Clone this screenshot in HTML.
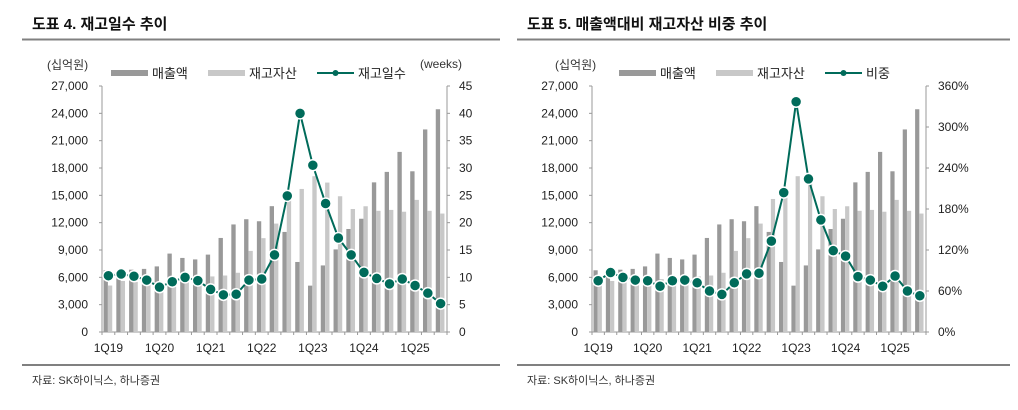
<!DOCTYPE html>
<html><head><meta charset="utf-8"><style>
body{margin:0;background:#fff;width:1018px;height:405px;overflow:hidden}
svg{font-family:"Liberation Sans","Noto Sans CJK KR",sans-serif}
</style></head><body>
<svg id="c" width="1018" height="405" xmlns="http://www.w3.org/2000/svg">
<text x="32" y="29" font-size="15" font-weight="bold" fill="#111">도표 4. 재고일수 추이</text>
<line x1="22" y1="39.5" x2="500" y2="39.5" stroke="#808080" stroke-width="2"/>
<text x="527" y="29" font-size="15" font-weight="bold" fill="#111">도표 5. 매출액대비 재고자산 비중 추이</text>
<line x1="517" y1="39.5" x2="1010" y2="39.5" stroke="#808080" stroke-width="2"/>
<line x1="22" y1="365" x2="500" y2="365" stroke="#808080" stroke-width="2"/>
<line x1="517" y1="365" x2="1010" y2="365" stroke="#808080" stroke-width="2"/>
<text x="32" y="384" font-size="11" fill="#333">자료: SK하이닉스, 하나증권</text>
<text x="527" y="384" font-size="11" fill="#333">자료: SK하이닉스, 하나증권</text>
</svg>
<script>
const quarters=["1Q19","2Q19","3Q19","4Q19","1Q20","2Q20","3Q20","4Q20","1Q21","2Q21","3Q21","4Q21","1Q22","2Q22","3Q22","4Q22","1Q23","2Q23","3Q23","4Q23","1Q24","2Q24","3Q24","4Q24","1Q25","2Q25","3Q25"];
const sales=[6773,6452,6839,6927,7199,8607,8129,7966,8494,10322,11805,12377,12156,13811,10983,7686,5088,7306,9066,11306,12430,16423,17573,19767,17639,22232,24449];
const inventory=[5100,5600,5500,5300,5400,5800,6100,6100,6100,6200,6500,8900,10300,11900,14600,15700,17100,16400,14900,13500,13800,13300,13400,13200,14500,13300,13000];
const weeks=[10.3,10.6,10.2,9.5,8.2,9.2,10.0,9.4,7.8,6.8,6.9,9.5,9.7,14.1,24.9,40.0,30.5,23.5,17.2,14.1,10.9,9.8,8.8,9.7,8.5,7.1,5.2];
const ratio=[75,87,80,76,75,67,75,76,72,60,55,72,85,86,133,204,337,224,164,119,111,81,76,67,82,60,53];
const leftTicks=[0,3000,6000,9000,12000,15000,18000,21000,24000,27000];
const weekTicks=[0,5,10,15,20,25,30,35,40,45];
const ratioTicks=[0,60,120,180,240,300,360];
const xLabels=["1Q19","1Q20","1Q21","1Q22","1Q23","1Q24","1Q25"];
const NS="http://www.w3.org/2000/svg";
const svg=document.getElementById('c');
function mk(tag,attrs,parent,txt){const e=document.createElementNS(NS,tag);for(const k in attrs)e.setAttribute(k,attrs[k]);if(txt!==undefined)e.textContent=txt;(parent||svg).appendChild(e);return e;}
function draw(cfg){
  const g=mk('g',{});
  
  
  const L=cfg.left,R=cfg.right,T=86,B=332;
  const n=quarters.length,bw=(R-L)/n;
  const yL=v=>B-(v/27000)*(B-T);
  const yR=v=>B-(v/cfg.rmax)*(B-T);
  const xc=i=>L+bw*(i+0.5);
  // axes
  const a1=mk('line',{x1:L,y1:T,x2:L,y2:B,stroke:'#999','stroke-width':1},g);
  
  const a2=mk('line',{x1:R,y1:T,x2:R,y2:B,stroke:'#999','stroke-width':1},g);
  
  const a3=mk('line',{x1:L-3,y1:B,x2:R+3,y2:B,stroke:'#999','stroke-width':1},g);
  
  leftTicks.forEach(v=>{
    mk('line',{x1:L-3,y1:yL(v),x2:L,y2:yL(v),stroke:'#999'},g);
    const t=mk('text',{x:L-14,y:yL(v)+4,'font-size':12,fill:'#222','text-anchor':'end'},g,v.toLocaleString('en-US'));
    
  });
  cfg.rticks.forEach(v=>{
    mk('line',{x1:R,y1:yR(v),x2:R+3,y2:yR(v),stroke:'#999'},g);
    const t=mk('text',{x:R+12,y:yR(v)+4,'font-size':12,fill:'#222'},g,v+cfg.suffix);
    
  });
  for(let i=0;i<=n;i++){mk('line',{x1:L+bw*i,y1:B,x2:L+bw*i,y2:B+3,stroke:'#999'},g);}
  quarters.forEach((q,i)=>{
    if(xLabels.indexOf(q)>=0){
      const t=mk('text',{x:xc(i),y:B+20,'font-size':12,fill:'#222','text-anchor':'middle'},g,q);
      
    }
  });
  const w=bw*0.34;
  quarters.forEach((q,i)=>{
    const b1=mk('rect',{x:xc(i)-w-0.5,y:yL(sales[i]),width:w,height:B-yL(sales[i]),fill:'#999'},g);
    
    const b2=mk('rect',{x:xc(i)-0.5,y:yL(inventory[i]),width:w,height:B-yL(inventory[i]),fill:'#c8c8c8'},g);
    
  });
  const vals=cfg.line;
  const pl=mk('polyline',{points:vals.map((v,i)=>xc(i)+','+yR(v)).join(' '),fill:'none',stroke:'#006b5a','stroke-width':2},g);
  
  vals.forEach((v,i)=>{
    const c=mk('circle',{cx:xc(i),cy:yR(v),r:5.5,fill:'#006b5a',stroke:'#fff','stroke-width':1.5},g);
    
  });
  // legend
  const o=cfg.lx;
  const u=mk('text',{x:o-64,y:69,'font-size':12,fill:'#333'},g,'(십억원)');
  
  mk('rect',{x:o,y:70,width:37,height:6,fill:'#999'},g);
  const l1=mk('text',{x:o+41,y:78,'font-size':13,fill:'#222'},g,'매출액');
  
  mk('rect',{x:o+97,y:70,width:37,height:6,fill:'#c8c8c8'},g);
  const l2=mk('text',{x:o+138,y:78,'font-size':13,fill:'#222'},g,'재고자산');
  
  mk('line',{x1:o+206,y1:73,x2:o+243,y2:73,stroke:'#006b5a','stroke-width':2},g);
  mk('circle',{cx:o+224.5,cy:73,r:3,fill:'#006b5a'},g);
  const l3=mk('text',{x:o+247,y:78,'font-size':13,fill:'#222'},g,cfg.lineName);
  
  if(cfg.runit){const r=mk('text',{x:R-27,y:68,'font-size':12,fill:'#333'},g,cfg.runit);
    }
}
draw({id:'weeks',left:102,right:447,rmax:45,rticks:weekTicks,suffix:'',line:weeks,lx:111,lineName:'재고일수',runit:'(weeks)'});
draw({id:'ratio',left:592,right:926,rmax:360,rticks:ratioTicks,suffix:'%',line:ratio,lx:619,lineName:'비중',runit:''});
</script>
</body></html>
